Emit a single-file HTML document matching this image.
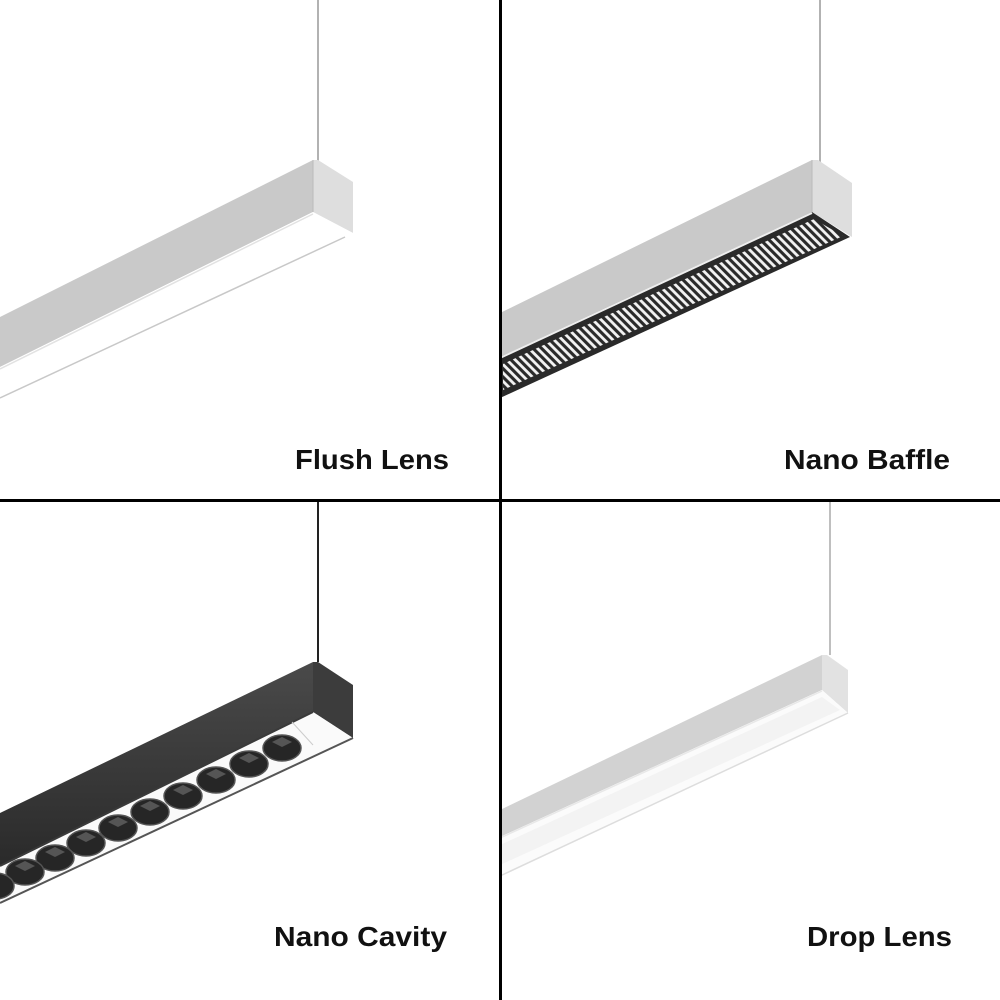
<!DOCTYPE html>
<html><head><meta charset="utf-8"><style>
html,body{margin:0;padding:0;background:#fff;}
svg{display:block}
text{font-family:"Liberation Sans",sans-serif;font-weight:bold;font-size:28px;fill:#111;}
</style></head><body>
<svg width="1000" height="1000" viewBox="0 0 1000 1000" xmlns="http://www.w3.org/2000/svg">
<defs>
<pattern id="slots" patternUnits="userSpaceOnUse" width="8.4" height="40" patternTransform="skewX(45)">
<rect x="0" y="0" width="8.4" height="40" fill="#2a2a2a"/>
<rect x="2.2" y="0" width="4" height="40" fill="#f2f2f2"/>
</pattern>
<clipPath id="bclip"><polygon points="503,364 814,219 843,236 503,390"/></clipPath>
<linearGradient id="blk" x1="0" y1="0" x2="0" y2="1"><stop offset="0" stop-color="#4a4a4a"/><stop offset="1" stop-color="#2a2a2a"/></linearGradient>
</defs>
<rect width="1000" height="1000" fill="#fff"/>

<!-- Flush Lens -->
<line x1="318" y1="0" x2="318" y2="162" stroke="#999" stroke-width="1.5"/>
<polygon points="0,317 313,160 313,212 0,367" fill="#c9c9c9"/>
<polygon points="313,160 318,160 353,182 353,233 313,212" fill="#dedede"/>
<line x1="313" y1="160" x2="313" y2="212" stroke="#bbb" stroke-width="1"/>
<polygon points="0,367 313,212 353,233 345,237 0,398" fill="#fff"/>
<line x1="0" y1="369" x2="313" y2="214" stroke="#e2e2e2" stroke-width="1.5"/>
<line x1="0" y1="398" x2="345" y2="237" stroke="#c8c8c8" stroke-width="1.5"/>

<!-- Nano Baffle -->
<line x1="820" y1="0" x2="820" y2="162" stroke="#999" stroke-width="1.5"/>
<polygon points="500,313 812,160 812,212 500,357" fill="#c9c9c9"/>
<polygon points="812,160 818,160 852,183 852,237 812,212" fill="#dedede"/>
<line x1="812" y1="160" x2="812" y2="212" stroke="#bbb" stroke-width="1"/>
<polygon points="500,357 812,212 850,237 500,398" fill="#2a2a2a"/>
<rect x="500" y="200" width="360" height="200" fill="url(#slots)" clip-path="url(#bclip)"/>
<line x1="500" y1="358" x2="812" y2="213" stroke="#eee" stroke-width="2"/>

<!-- Nano Cavity -->
<line x1="318" y1="500" x2="318" y2="662" stroke="#222" stroke-width="2"/>
<polygon points="0,813 313,662 313,712 0,866" fill="url(#blk)"/>
<polygon points="313,662 318,662 353,685 353,738 313,712" fill="#3c3c3c"/>
<polygon points="0,866 313,712 353,738 0,903" fill="#fafafa"/>
<line x1="0" y1="866" x2="313" y2="712" stroke="#3a3a3a" stroke-width="2"/>
<line x1="0" y1="903" x2="353" y2="738" stroke="#555" stroke-width="2"/>
<line x1="292" y1="722" x2="313" y2="745" stroke="#ccc" stroke-width="1"/>
<g fill="#262626" stroke="#555" stroke-width="1.5">
<ellipse cx="282" cy="748" rx="19" ry="13"/>
<ellipse cx="249" cy="764" rx="19" ry="13"/>
<ellipse cx="216" cy="780" rx="19" ry="13"/>
<ellipse cx="183" cy="796" rx="19" ry="13"/>
<ellipse cx="150" cy="812" rx="19" ry="13"/>
<ellipse cx="118" cy="828" rx="19" ry="13"/>
<ellipse cx="86" cy="843" rx="19" ry="13"/>
<ellipse cx="55" cy="858" rx="19" ry="13"/>
<ellipse cx="25" cy="872" rx="19" ry="13"/>
<ellipse cx="-5" cy="886" rx="19" ry="13"/>
</g>
<g fill="#555">
<polygon points="272,742 282,737 292,742 282,747"/>
<polygon points="239,758 249,753 259,758 249,763"/>
<polygon points="206,774 216,769 226,774 216,779"/>
<polygon points="173,790 183,785 193,790 183,795"/>
<polygon points="140,806 150,801 160,806 150,811"/>
<polygon points="108,822 118,817 128,822 118,827"/>
<polygon points="76,837 86,832 96,837 86,842"/>
<polygon points="45,852 55,847 65,852 55,857"/>
<polygon points="15,866 25,861 35,866 25,871"/>
</g>

<!-- Drop Lens -->
<line x1="830" y1="500" x2="830" y2="655" stroke="#aaa" stroke-width="1.5"/>
<polygon points="500,810 822,655 822,690 500,837" fill="#d2d2d2"/>
<polygon points="822,655 827,655 848,670 848,713 822,690" fill="#e2e2e2"/>
<polygon points="500,837 822,690 848,713 500,876" fill="#fbfbfb"/>
<polygon points="500,845 822,697 840,710 500,865" fill="#f3f3f3"/>
<line x1="500" y1="876" x2="848" y2="713" stroke="#ddd" stroke-width="1.5"/>
<line x1="500" y1="838" x2="822" y2="691" stroke="#e8e8e8" stroke-width="1.5"/>

<!-- dividers -->
<rect x="499" y="0" width="3" height="1000" fill="#000"/>
<rect x="0" y="499" width="1000" height="3" fill="#000"/>

<text x="449" y="469" text-anchor="end" textLength="154" lengthAdjust="spacingAndGlyphs">Flush Lens</text>
<text x="950" y="469" text-anchor="end" textLength="166" lengthAdjust="spacingAndGlyphs">Nano Baffle</text>
<text x="447" y="946" text-anchor="end" textLength="173" lengthAdjust="spacingAndGlyphs">Nano Cavity</text>
<text x="952" y="946" text-anchor="end" textLength="145" lengthAdjust="spacingAndGlyphs">Drop Lens</text>
</svg>
</body></html>
